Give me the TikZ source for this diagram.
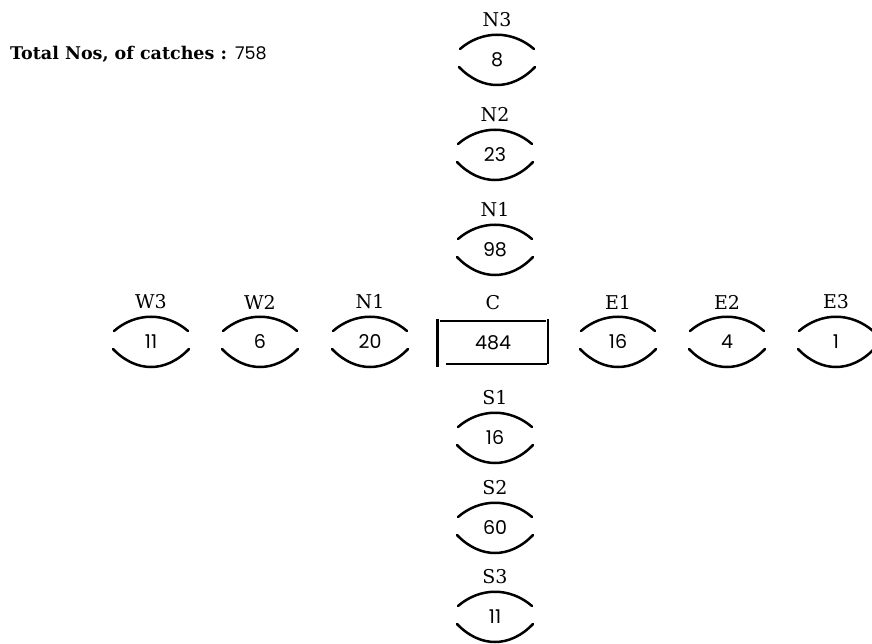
\documentclass[tikz,border=0pt]{standalone}
\usepackage{fontspec}
\setmainfont{DejaVu Serif}
\newfontfamily\numfont{Poppins}
\tikzset{
  lbl/.style={font=\fontsize{19}{19}\selectfont, inner sep=0pt},
  num/.style={font=\numfont\fontsize{19}{19}\selectfont, inner sep=0pt},
  arc/.style={line width=2.5pt, line cap=round},
  boxside/.style={line width=2.4pt, line cap=butt}
}
\newcommand{\lensnode}[5]{%
  \node[num] (#1) at (#2,#3) {#5};
  \node[lbl] (#1-l) at ([yshift=40pt]#1.center) {#4};
  \draw[arc] ([shift={(-37,-11)}]#1.center) .. controls ([shift={(-15,-30)}]#1.center) and ([shift={(15,-30)}]#1.center) .. ([shift={(37,-11)}]#1.center);
  \draw[arc] ([shift={(-38,7)}]#1.center) .. controls ([shift={(-15,31)}]#1.center) and ([shift={(15,31)}]#1.center) .. ([shift={(38,7)}]#1.center);
}
\begin{document}
\begin{tikzpicture}[x=1pt,y=-1pt]
\useasboundingbox (0,0) rectangle (872,644);
\node[anchor=west, inner sep=0pt, font=\bfseries\fontsize{17.5}{17.5}\selectfont] (title) at (10,54) {Total Nos, of catches : {\numfont\mdseries 758}};
% vertical column
\lensnode{n3}{497}{60}{N3}{8}
\lensnode{n2}{495}{155}{N2}{23}
\lensnode{n1}{495}{250}{N1}{98}
\lensnode{s1}{495}{438}{S1}{16}
\lensnode{s2}{495}{528}{S2}{60}
\lensnode{s3}{495}{617}{S3}{11}
% horizontal row
\lensnode{w3}{151}{342}{W3}{11}
\lensnode{w2}{260}{342}{W2}{6}
\lensnode{w1}{370}{342}{N1}{20}
\lensnode{e1}{618}{342}{E1}{16}
\lensnode{e2}{727}{342}{E2}{4}
\lensnode{e3}{836}{342}{E3}{1}
% centre box
\node[num, minimum width=110pt, minimum height=48pt] (c) at (493,343) {484};
\node[lbl] (c-l) at ([yshift=40pt]c.center) {C};
\draw[boxside, line width=3pt] (c.north west) -- (c.south west);
\draw[boxside] (c.north east) -- ([yshift=3pt]c.south east);
\draw[boxside, line width=2pt] ([xshift=2pt,yshift=-2pt]c.north west) -- ([xshift=-2pt,yshift=-2pt]c.north east);
\draw[boxside, line width=2pt] ([xshift=8pt,yshift=3pt]c.south west) -- ([xshift=-1pt,yshift=3pt]c.south east);
\end{tikzpicture}
\end{document}
